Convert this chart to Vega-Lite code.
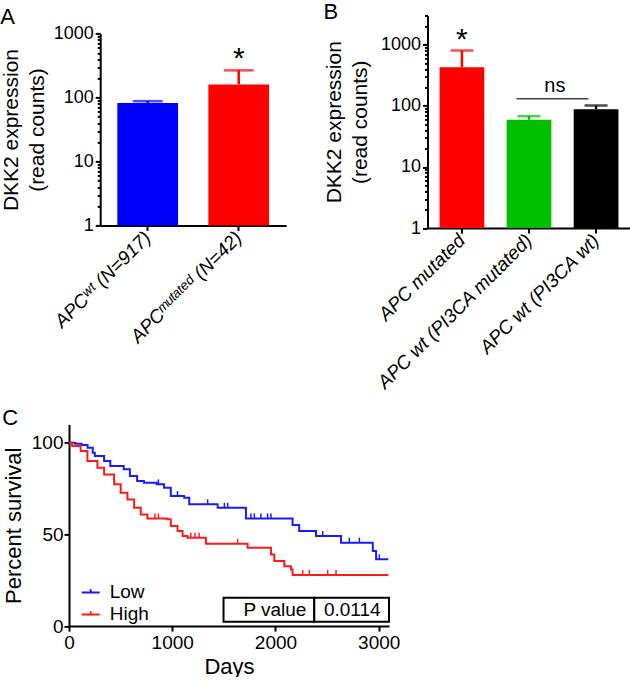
{
  "$schema": "https://vega.github.io/schema/vega-lite/v6.json",
  "padding": {"left": 0, "top": 0.4, "right": 0, "bottom": 0},
  "config": {
    "font": "Liberation Sans",
    "view": {"stroke": null},
    "axis": {"domainColor": "black", "domainWidth": 2, "tickColor": "black", "tickWidth": 2, "labelColor": "black", "titleColor": "black", "grid": false, "titleFontWeight": "normal", "labelFontSize": 18, "titleFontSize": 21},
    "title": {"fontWeight": "normal", "fontSize": 22, "anchor": "start", "color": "black", "frame": "bounds"}
  },
  "datasets": {
    "barsA": [
      {"group": "APCʷᵗ (N=917)", "mean": 82, "upper": 88, "sig": ""},
      {"group": "APCᵐᵘᵗᵃᵗᵉᵈ (N=42)", "mean": 161, "upper": 267, "sig": "*"}
    ],
    "barsB": [
      {"group": "APC mutated", "mean": 428, "upper": 801, "sig": "*"},
      {"group": "APC wt (PI3CA mutated)", "mean": 59, "upper": 67.6, "sig": ""},
      {"group": "APC wt (PI3CA wt)", "mean": 88, "upper": 101, "sig": ""}
    ],
    "nsB": [{"from": "APC wt (PI3CA mutated)", "to": "APC wt (PI3CA wt)", "y": 130, "label": "ns"}],
    "km": [
      {"group": "Low", "days": 0, "pct": 100}, {"group": "Low", "days": 60, "pct": 99.5}, {"group": "Low", "days": 120, "pct": 98.7}, {"group": "Low", "days": 180, "pct": 97.3}, {"group": "Low", "days": 230, "pct": 94.5}, {"group": "Low", "days": 250, "pct": 92.7}, {"group": "Low", "days": 340, "pct": 90}, {"group": "Low", "days": 400, "pct": 87.3}, {"group": "Low", "days": 530, "pct": 85.5}, {"group": "Low", "days": 590, "pct": 81.8}, {"group": "Low", "days": 660, "pct": 79.1}, {"group": "Low", "days": 727, "pct": 78.2}, {"group": "Low", "days": 850, "pct": 77.3}, {"group": "Low", "days": 921, "pct": 75.5}, {"group": "Low", "days": 986, "pct": 70.9}, {"group": "Low", "days": 1116, "pct": 70}, {"group": "Low", "days": 1165, "pct": 66.4}, {"group": "Low", "days": 1440, "pct": 64.5}, {"group": "Low", "days": 1714, "pct": 58.7}, {"group": "Low", "days": 2166, "pct": 55.1}, {"group": "Low", "days": 2230, "pct": 51.8}, {"group": "Low", "days": 2393, "pct": 49.1}, {"group": "Low", "days": 2635, "pct": 45.5}, {"group": "Low", "days": 2943, "pct": 40.9}, {"group": "Low", "days": 2975, "pct": 36.4}, {"group": "Low", "days": 3094, "pct": 36.4},
      {"group": "High", "days": 0, "pct": 100}, {"group": "High", "days": 30, "pct": 98.2}, {"group": "High", "days": 113, "pct": 95.5}, {"group": "High", "days": 178, "pct": 90}, {"group": "High", "days": 275, "pct": 86.4}, {"group": "High", "days": 340, "pct": 82.7}, {"group": "High", "days": 437, "pct": 77.3}, {"group": "High", "days": 501, "pct": 72.7}, {"group": "High", "days": 566, "pct": 69.1}, {"group": "High", "days": 631, "pct": 64.5}, {"group": "High", "days": 695, "pct": 60.9}, {"group": "High", "days": 760, "pct": 58.7}, {"group": "High", "days": 954, "pct": 58.2}, {"group": "High", "days": 986, "pct": 54.6}, {"group": "High", "days": 1051, "pct": 51.8}, {"group": "High", "days": 1100, "pct": 49.1}, {"group": "High", "days": 1148, "pct": 48.2}, {"group": "High", "days": 1326, "pct": 44.9}, {"group": "High", "days": 1730, "pct": 42.7}, {"group": "High", "days": 1957, "pct": 39.1}, {"group": "High", "days": 1989, "pct": 35.5}, {"group": "High", "days": 2086, "pct": 32.7}, {"group": "High", "days": 2151, "pct": 30.9}, {"group": "High", "days": 2166, "pct": 27.8}, {"group": "High", "days": 3094, "pct": 27.8}
    ],
    "censor": [
      {"group": "Low", "days": 866, "pct": 77.3}, {"group": "Low", "days": 1051, "pct": 70.9}, {"group": "Low", "days": 1343, "pct": 66.4}, {"group": "Low", "days": 1505, "pct": 64.5}, {"group": "Low", "days": 1537, "pct": 64.5}, {"group": "Low", "days": 1762, "pct": 58.7}, {"group": "Low", "days": 1795, "pct": 58.7}, {"group": "Low", "days": 1859, "pct": 58.7}, {"group": "Low", "days": 1924, "pct": 58.7}, {"group": "Low", "days": 1956, "pct": 58.7}, {"group": "Low", "days": 2458, "pct": 49.1}, {"group": "Low", "days": 2716, "pct": 45.5}, {"group": "Low", "days": 2813, "pct": 45.5}, {"group": "Low", "days": 3006, "pct": 36.4},
      {"group": "High", "days": 833, "pct": 58.7}, {"group": "High", "days": 866, "pct": 58.7}, {"group": "High", "days": 1180, "pct": 48.2}, {"group": "High", "days": 1220, "pct": 48.2}, {"group": "High", "days": 1260, "pct": 48.2}, {"group": "High", "days": 1633, "pct": 44.9}, {"group": "High", "days": 2264, "pct": 27.8}, {"group": "High", "days": 2328, "pct": 27.8}, {"group": "High", "days": 2506, "pct": 27.8}, {"group": "High", "days": 2587, "pct": 27.8}
    ],
    "ptable": [
      {"x1": 1497, "x2": 2376, "y1": 2.3, "y2": 15.4, "xc": 1995, "yc": 8.8, "label": "P value"},
      {"x1": 2376, "x2": 3100, "y1": 2.3, "y2": 15.4, "xc": 2744, "yc": 8.8, "label": "0.0114"}
    ]
  },
  "resolve": {"scale": {"color": "independent"}},
  "spacing": 13,
  "vconcat": [
    {
      "hconcat": [
        {
          "title": {"text": "A", "offset": -13.8},
          "width": 217.2,
          "height": 210,
          "data": {"name": "barsA"},
          "encoding": {
            "x": {"field": "group", "type": "nominal", "sort": null,
              "scale": {"range": [31.2, 217.2], "paddingInner": 0.333, "paddingOuter": 0.188},
              "axis": {"title": null, "labelAngle": -45, "labelAlign": "right", "labelBaseline": "middle", "labelFontSize": 19, "labelFontStyle": "italic", "tickSize": 5, "labelPadding": 4, "labelLimit": 300}}
          },
          "layer": [
            {
              "mark": {"type": "bar"},
              "encoding": {
                "y": {"field": "mean", "type": "quantitative",
                  "scale": {"type": "log", "domain": [1, 1000], "nice": false, "range": [210, 18.3]},
                  "axis": {"title": ["DKK2 expression", "(read counts)"], "titleLineHeight": 26, "offset": -31.2,
                    "values": [1, 2, 3, 4, 5, 6, 7, 8, 9, 10, 20, 30, 40, 50, 60, 70, 80, 90, 100, 200, 300, 400, 500, 600, 700, 800, 900, 1000],
                    "format": "d", "labelExpr": "indexof([1,10,100,1000], datum.value) >= 0 ? datum.label : ''",
                    "labelOverlap": false, "labelFlush": false,
                    "tickSize": {"condition": {"test": "indexof([1,10,100,1000], datum.value) >= 0", "value": 5}, "value": 3},
                    "labelPadding": 2, "titlePadding": 6}},
                "y2": {"datum": 1},
                "color": {"field": "group", "type": "nominal", "scale": {"domain": ["APCʷᵗ (N=917)", "APCᵐᵘᵗᵃᵗᵉᵈ (N=42)"], "range": ["#0000ff", "#ff0000"]}, "legend": null}
              }
            },
            {
              "mark": {"type": "rule", "strokeWidth": 2.5},
              "encoding": {
                "y": {"field": "mean", "type": "quantitative"},
                "y2": {"field": "upper"},
                "color": {"field": "group", "type": "nominal", "legend": null}
              }
            },
            {
              "mark": {"type": "tick", "thickness": 2.5, "size": 30},
              "encoding": {
                "y": {"field": "upper", "type": "quantitative"},
                "color": {"field": "group", "type": "nominal", "legend": null}
              }
            },
            {
              "transform": [{"filter": "datum.sig != ''"}],
              "mark": {"type": "text", "fontSize": 30, "baseline": "alphabetic", "dy": -2, "color": "black"},
              "encoding": {
                "y": {"field": "upper", "type": "quantitative"},
                "text": {"field": "sig"}
              }
            }
          ]
        },
        {
          "title": {"text": "B", "offset": -17.2},
          "width": 203,
          "height": 212.7,
          "encoding": {
            "x": {"field": "group", "type": "nominal", "sort": null,
              "scale": {"domain": ["APC mutated", "APC wt (PI3CA mutated)", "APC wt (PI3CA wt)"], "paddingInner": 0.333, "paddingOuter": 0.18},
              "axis": {"title": null, "labelAngle": -45, "labelAlign": "right", "labelBaseline": "middle", "labelFontSize": 19, "labelFontStyle": "italic", "tickSize": 5, "labelPadding": 4, "labelLimit": 300}}
          },
          "layer": [
            {
              "data": {"name": "barsB"},
              "mark": {"type": "bar"},
              "encoding": {
                "y": {"field": "mean", "type": "quantitative",
                  "scale": {"type": "log", "domain": [1, 3000], "nice": false},
                  "axis": {"title": ["DKK2 expression", "(read counts)"], "titleLineHeight": 26,
                    "values": [1, 2, 3, 4, 5, 6, 7, 8, 9, 10, 20, 30, 40, 50, 60, 70, 80, 90, 100, 200, 300, 400, 500, 600, 700, 800, 900, 1000, 2000, 3000],
                    "format": "d", "labelExpr": "indexof([1,10,100,1000], datum.value) >= 0 ? datum.label : ''",
                    "labelOverlap": false, "labelFlush": false,
                    "tickSize": {"condition": {"test": "indexof([1,10,100,1000], datum.value) >= 0", "value": 5}, "value": 3},
                    "labelPadding": 2, "titlePadding": 10}},
                "y2": {"datum": 1},
                "color": {"field": "group", "type": "nominal", "scale": {"domain": ["APC mutated", "APC wt (PI3CA mutated)", "APC wt (PI3CA wt)"], "range": ["#ff0000", "#00bf00", "#000000"]}, "legend": null}
              }
            },
            {
              "data": {"name": "barsB"},
              "mark": {"type": "rule", "strokeWidth": 2.5},
              "encoding": {
                "y": {"field": "mean", "type": "quantitative"},
                "y2": {"field": "upper"},
                "color": {"field": "group", "type": "nominal", "legend": null}
              }
            },
            {
              "data": {"name": "barsB"},
              "mark": {"type": "tick", "thickness": 2.5, "size": 23},
              "encoding": {
                "y": {"field": "upper", "type": "quantitative"},
                "color": {"field": "group", "type": "nominal", "legend": null}
              }
            },
            {
              "data": {"name": "barsB"},
              "transform": [{"filter": "datum.sig != ''"}],
              "mark": {"type": "text", "fontSize": 30, "baseline": "alphabetic", "dy": -1, "color": "black"},
              "encoding": {
                "y": {"field": "upper", "type": "quantitative"},
                "text": {"field": "sig"}
              }
            },
            {
              "data": {"name": "nsB"},
              "mark": {"type": "rule", "strokeWidth": 1.5, "color": "#444444"},
              "encoding": {
                "x": {"field": "from", "type": "nominal", "bandPosition": 0.22},
                "x2": {"field": "to", "bandPosition": 0.33},
                "y": {"field": "y", "type": "quantitative"}
              }
            },
            {
              "data": {"name": "nsB"},
              "mark": {"type": "text", "fontSize": 20, "baseline": "alphabetic", "dy": -7, "dx": 3.5, "color": "black"},
              "encoding": {
                "x": {"field": "from", "type": "nominal", "bandPosition": 1},
                "y": {"field": "y", "type": "quantitative"},
                "text": {"field": "label"}
              }
            }
          ]
        }
      ],
      "spacing": 140.5,
      "bounds": "flush",
      "resolve": {"scale": {"color": "independent"}}
    },
    {
      "title": {"text": "C", "offset": -5.7},
      "width": 320,
      "height": 201.7,
      "encoding": {
        "x": {"field": "days", "type": "quantitative", "scale": {"domain": [0, 3100], "nice": false},
          "axis": {"title": "Days", "values": [0, 1000, 2000, 3000], "format": "d", "labelFontSize": 19, "titleFontSize": 22, "tickSize": 5, "labelFlush": false, "titlePadding": 4}},
        "y": {"field": "pct", "type": "quantitative", "scale": {"domain": [0, 110], "nice": false},
          "axis": {"title": "Percent survival", "values": [0, 50, 100], "labelFontSize": 19, "titleFontSize": 22, "tickSize": 5, "labelPadding": 1, "titlePadding": 6}}
      },
      "layer": [
        {
          "data": {"name": "km"},
          "mark": {"type": "line", "interpolate": "step-after", "strokeWidth": 2},
          "encoding": {
            "color": {"field": "group", "type": "nominal", "scale": {"domain": ["Low", "High"], "range": ["#1a1aff", "#ff1a1a"]},
              "legend": {"title": null, "orient": "none", "legendX": 11.7, "legendY": 158, "symbolType": "M-1,0H1M0,0V-0.35", "symbolSize": 324, "symbolStrokeWidth": 2, "labelFontSize": 19, "labelOffset": 9, "rowPadding": 2, "padding": 0, "labelColor": "black"}}
          }
        },
        {
          "data": {"name": "censor"},
          "mark": {"type": "point", "shape": "M0,0V-1", "size": 100, "strokeWidth": 1.5, "filled": false, "opacity": 1},
          "encoding": {
            "color": {"field": "group", "type": "nominal"}
          }
        },
        {
          "data": {"name": "ptable"},
          "mark": {"type": "rect", "fill": "white", "stroke": "black", "strokeWidth": 2},
          "encoding": {
            "x": {"field": "x1", "type": "quantitative"},
            "x2": {"field": "x2"},
            "y": {"field": "y1", "type": "quantitative"},
            "y2": {"field": "y2"}
          }
        },
        {
          "data": {"name": "ptable"},
          "mark": {"type": "text", "fontSize": 19, "baseline": "middle", "color": "black"},
          "encoding": {
            "x": {"field": "xc", "type": "quantitative"},
            "y": {"field": "yc", "type": "quantitative"},
            "text": {"field": "label"}
          }
        }
      ]
    }
  ]
}
